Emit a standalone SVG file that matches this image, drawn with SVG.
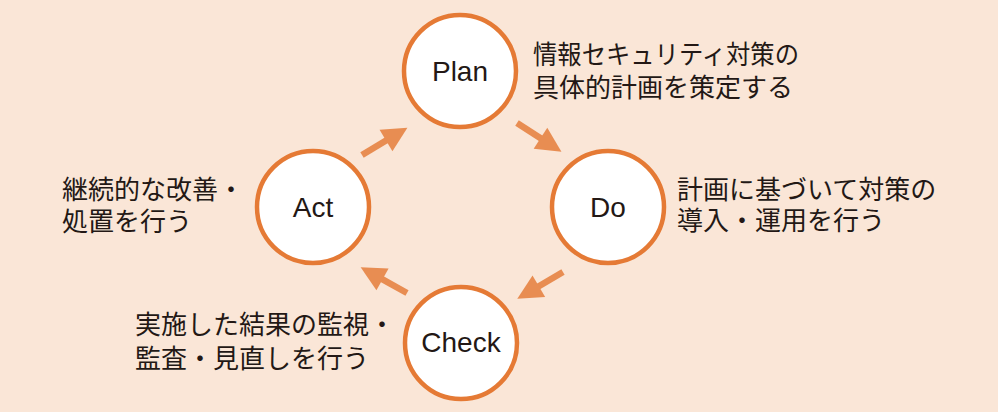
<svg xmlns="http://www.w3.org/2000/svg" width="998" height="412" viewBox="0 0 998 412">
<style>
.node circle{fill:#fff;stroke:#E57A35;stroke-width:4.5}
.lbl{font-family:"Liberation Sans",Arial,sans-serif;font-size:28px;fill:#231815;text-anchor:middle}
.desc{font-family:"Noto Sans CJK JP","Noto Sans CJK SC",sans-serif;font-size:26px;fill:#231815}
.arrow line{stroke:#E88D52;stroke-width:6.5}
.arrow polygon{fill:#E88D52}
</style>
<defs>
<g id="arr" class="arrow">
<line x1="0" y1="0" x2="30" y2="0"/>
<polygon points="53,0 28,-12.5 28,12.5"/>
</g>
</defs>
<rect x="0" y="0" width="998" height="412" fill="#FAE6D7"/>
<g id="connectors">
<use href="#arr" transform="translate(362,155) rotate(-31)"/>
<use href="#arr" transform="translate(517,123) rotate(33)"/>
<use href="#arr" transform="translate(563,272) rotate(149.6)"/>
<use href="#arr" transform="translate(407,293) rotate(209)"/>
</g>
<g id="plan" class="node">
<circle cx="460" cy="71" r="56"/>
<text class="lbl" x="460" y="81">Plan</text>
<text class="desc" x="533" y="64" textLength="266" lengthAdjust="spacingAndGlyphs">情報セキュリティ対策の</text>
<text class="desc" x="533" y="97">具体的計画を策定する</text>
</g>
<g id="do" class="node">
<circle cx="608" cy="207" r="56"/>
<text class="lbl" x="608" y="217">Do</text>
<text class="desc" x="677" y="199">計画に基づいて対策の</text>
<text class="desc" x="677" y="230">導入・運用を行う</text>
</g>
<g id="check" class="node">
<circle cx="461" cy="343" r="56"/>
<text class="lbl" x="461" y="352">Check</text>
<text class="desc" x="135" y="334">実施した結果の監視・</text>
<text class="desc" x="135" y="368">監査・見直しを行う</text>
</g>
<g id="act" class="node">
<circle cx="313" cy="207" r="56"/>
<text class="lbl" x="313" y="217">Act</text>
<text class="desc" x="62" y="199">継続的な改善・</text>
<text class="desc" x="62" y="231">処置を行う</text>
</g>
</svg>
